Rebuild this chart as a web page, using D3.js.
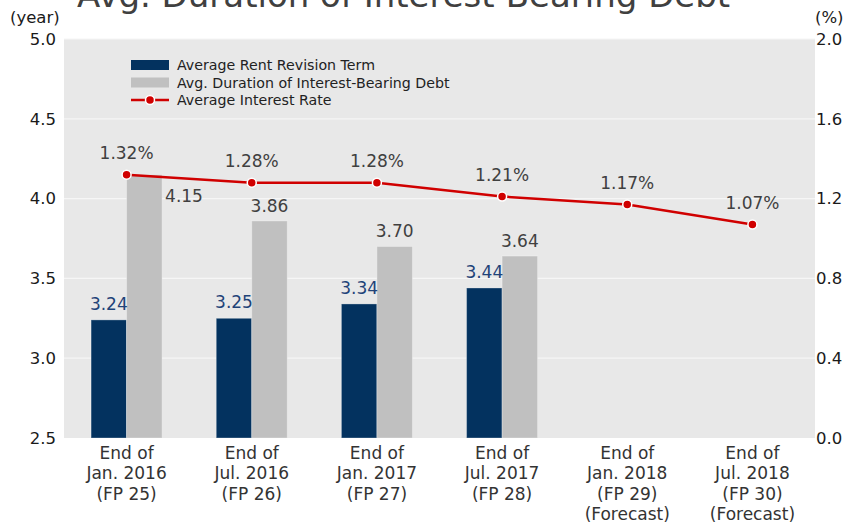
<!DOCTYPE html>
<html>
<head>
<meta charset="utf-8">
<script src="https://cdn.jsdelivr.net/npm/d3@7"></script>
<style>
  body { margin: 0; background: #fff; }
  svg text { font-family: "DejaVu Sans", Verdana, sans-serif; }
</style>
</head>
<body>
<svg id="chart"></svg>
<script>
// data
var categories = [
  ["End of", "Jan. 2016", "(FP 25)"],
  ["End of", "Jul. 2016", "(FP 26)"],
  ["End of", "Jan. 2017", "(FP 27)"],
  ["End of", "Jul. 2017", "(FP 28)"],
  ["End of", "Jan. 2018", "(FP 29)", "(Forecast)"],
  ["End of", "Jul. 2018", "(FP 30)", "(Forecast)"]
];
var rentTerm = [3.24, 3.25, 3.34, 3.44, null, null];
var debtDuration = [4.15, 3.86, 3.70, 3.64, null, null];
var interestRate = [1.32, 1.28, 1.28, 1.21, 1.17, 1.07];
var leftTicks = [2.5, 3.0, 3.5, 4.0, 4.5, 5.0];
var rightTicks = [0.0, 0.4, 0.8, 1.2, 1.6, 2.0];
var seriesNames = ["Average Rent Revision Term", "Avg. Duration of Interest-Bearing Debt", "Average Interest Rate"];
var title = "Avg. Duration of Interest-Bearing Debt";

var W = 848, H = 524;
var plot = {left: 64, right: 815, top: 39, bottom: 438};
var navy = "#03325f", grey = "#c0c0c0", red = "#d00000";

var svg = d3.select("#chart").attr("width", W).attr("height", H);

var x = d3.scaleBand().domain(d3.range(categories.length)).range([plot.left, plot.right]).padding(0);
var y = d3.scaleLinear().domain([2.5, 5.0]).range([plot.bottom, plot.top]);
var yR = d3.scaleLinear().domain([0, 2.0]).range([plot.bottom, plot.top]);
var barW = 35.5;

// title (cut off at top like the original)
svg.append("text")
  .attr("x", 77).attr("y", 7)
  .attr("font-size", 34).attr("fill", "#404040")
  .text(title);

// plot background
svg.append("rect")
  .attr("x", plot.left).attr("y", plot.top)
  .attr("width", plot.right - plot.left).attr("height", plot.bottom - plot.top)
  .attr("fill", "#e8e8e8");

// gridlines
svg.append("g").selectAll("line")
  .data(leftTicks.slice(1))
  .enter().append("line")
    .attr("x1", plot.left).attr("x2", plot.right)
    .attr("y1", function(d) { return y(d); }).attr("y2", function(d) { return y(d); })
    .attr("stroke", "#f6f6f6").attr("stroke-width", 1.2);

// axes
var yAxisL = svg.append("g")
  .attr("transform", "translate(" + (plot.left - 8) + ",0)")
  .call(d3.axisLeft(y).tickValues(leftTicks).tickSize(0).tickFormat(d3.format(".1f")));
var yAxisR = svg.append("g")
  .attr("transform", "translate(" + (plot.right + 1) + ",0)")
  .call(d3.axisRight(yR).tickValues(rightTicks).tickSize(0).tickFormat(d3.format(".1f")));
[yAxisL, yAxisR].forEach(function(a) {
  a.select(".domain").remove();
  a.selectAll("text").attr("font-size", 16.5).attr("fill", "#1a1a1a")
    .attr("font-family", "DejaVu Sans").attr("x", 0);
});

svg.append("text").attr("x", 10).attr("y", 23).attr("font-size", 16.5).attr("fill", "#1a1a1a").text("(year)");
svg.append("text").attr("x", 815).attr("y", 23).attr("font-size", 16.5).attr("fill", "#1a1a1a").text("(%)");

// x axis labels
var xAxis = svg.append("g")
  .attr("transform", "translate(0," + plot.bottom + ")")
  .call(d3.axisBottom(x).tickSize(0).tickFormat(""));
xAxis.select(".domain").remove();
xAxis.selectAll(".tick text").remove();
xAxis.selectAll(".tick").append("text")
  .attr("text-anchor", "middle")
  .attr("font-size", 17).attr("fill", "#333")
  .selectAll("tspan")
  .data(function(d) { return categories[d]; })
  .enter().append("tspan")
    .attr("x", 0)
    .attr("y", function(d, i) { return 21 + i * 20.3; })
    .text(function(d) { return d; });

// bars
var bars = svg.append("g");
bars.selectAll(".rent")
  .data(rentTerm.map(function(v, i) { return {v: v, i: i}; }).filter(function(d) { return d.v != null; }))
  .enter().append("rect")
    .attr("class", "rent")
    .attr("x", function(d) { return x(d.i) + x.bandwidth() / 2 - barW; })
    .attr("y", function(d) { return y(d.v); })
    .attr("width", barW)
    .attr("height", function(d) { return plot.bottom - y(d.v); })
    .attr("fill", navy)
    .attr("stroke", "rgba(255,255,255,0.3)").attr("stroke-width", 1);
bars.selectAll(".debt")
  .data(debtDuration.map(function(v, i) { return {v: v, i: i}; }).filter(function(d) { return d.v != null; }))
  .enter().append("rect")
    .attr("class", "debt")
    .attr("x", function(d) { return x(d.i) + x.bandwidth() / 2; })
    .attr("y", function(d) { return y(d.v); })
    .attr("width", barW)
    .attr("height", function(d) { return plot.bottom - y(d.v); })
    .attr("fill", grey)
    .attr("stroke", "rgba(255,255,255,0.3)").attr("stroke-width", 1);

// bar labels
svg.append("g").selectAll("text")
  .data(rentTerm.map(function(v, i) { return {v: v, i: i}; }).filter(function(d) { return d.v != null; }))
  .enter().append("text")
    .attr("x", function(d) { return x(d.i) + x.bandwidth() / 2 - barW / 2; })
    .attr("y", function(d) { return y(d.v) - 10; })
    .attr("text-anchor", "middle")
    .attr("font-size", 17).attr("fill", "#1f4379")
    .text(function(d) { return d.v.toFixed(2); });

svg.append("g").selectAll("text")
  .data(debtDuration.map(function(v, i) { return {v: v, i: i}; }).filter(function(d) { return d.v != null; }))
  .enter().append("text")
    .each(function(d) {
      var t = d3.select(this);
      var cx = x(d.i) + x.bandwidth() / 2;
      // move label beside the bar when the rate line sits on the bar top
      if (Math.abs(y(d.v) - yR(interestRate[d.i])) < 20) {
        t.attr("x", cx + barW + 3).attr("y", y(d.v) + 27).attr("text-anchor", "start");
      } else {
        t.attr("x", cx + barW / 2).attr("y", y(d.v) - 9).attr("text-anchor", "middle");
      }
    })
    .attr("font-size", 17).attr("fill", "#404040")
    .text(function(d) { return d.v.toFixed(2); });

// interest rate line
var line = d3.line()
  .x(function(d, i) { return x(i) + x.bandwidth() / 2; })
  .y(function(d) { return yR(d); });

svg.append("path")
  .datum(interestRate)
  .attr("fill", "none").attr("stroke", red).attr("stroke-width", 2.5)
  .attr("d", line);

svg.append("g").selectAll("circle")
  .data(interestRate)
  .enter().append("circle")
    .attr("cx", function(d, i) { return x(i) + x.bandwidth() / 2; })
    .attr("cy", function(d) { return yR(d); })
    .attr("r", 4.5)
    .attr("fill", red).attr("stroke", "#fff").attr("stroke-width", 1.5);

svg.append("g").selectAll("text")
  .data(interestRate)
  .enter().append("text")
    .attr("x", function(d, i) { return x(i) + x.bandwidth() / 2; })
    .attr("y", function(d) { return yR(d) - 16; })
    .attr("text-anchor", "middle")
    .attr("font-size", 17).attr("fill", "#404040")
    .text(function(d) { return d.toFixed(2) + "%"; });

// legend
var legend = svg.append("g").attr("transform", "translate(131,60)");
var items = legend.selectAll("g")
  .data(seriesNames)
  .enter().append("g")
    .attr("transform", function(d, i) { return "translate(0," + (i * 17.5) + ")"; });
items.each(function(d, i) {
  var g = d3.select(this);
  if (i < 2) {
    g.append("rect").attr("width", 38).attr("height", 10).attr("fill", i == 0 ? navy : grey);
  } else {
    g.append("line").attr("x1", 0).attr("x2", 38).attr("y1", 5).attr("y2", 5)
      .attr("stroke", red).attr("stroke-width", 2.5);
    g.append("circle").attr("cx", 19).attr("cy", 5).attr("r", 4.5)
      .attr("fill", red).attr("stroke", "#fff").attr("stroke-width", 1.5);
  }
  g.append("text").attr("x", 46).attr("y", 10)
    .attr("font-size", 14.2).attr("fill", "#222").text(d);
});
</script>
</body>
</html>
